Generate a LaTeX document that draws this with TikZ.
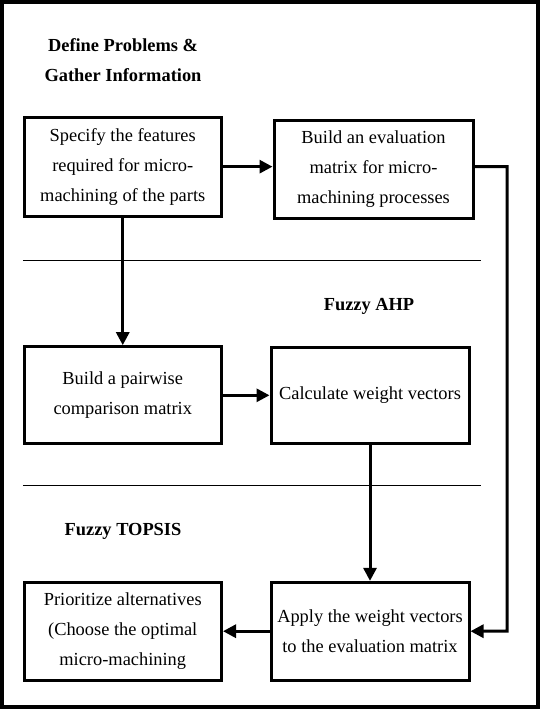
\documentclass[tikz,border=0pt]{standalone}
\usepackage{fontspec}
\setmainfont{Liberation Serif}
\usetikzlibrary{arrows.meta}
\tikzset{
  stepbox/.style={draw, line width=3pt, inner sep=2pt, align=center,
    font=\fontsize{18.4}{30}\selectfont},
  flow/.style={line width=3pt, -{Triangle[length=13pt,width=13pt]}},
  plain/.style={line width=3pt},
  sep/.style={line width=1pt},
  head/.style={align=center, font=\fontsize{18.4}{30}\selectfont\bfseries}
}
\begin{document}
\begin{tikzpicture}[x=1pt,y=-1pt]
\useasboundingbox (0,0) rectangle (541,710);
\draw[line width=4pt] (2,2) rectangle (538,707);

\node[head] (h1) at (123,60) {Define Problems \&\\Gather Information};
\node[head] (h2) at (369,306.7) {Fuzzy AHP};
\node[head] (h3) at (123,531.7) {Fuzzy TOPSIS};

\node[stepbox, minimum width=197.5pt, minimum height=98.7pt] (b1) at (122.75,166.65)
  {Specify the features\\required for micro-\\machining of the parts};
\node[stepbox, minimum width=199pt, minimum height=97.6pt] (b2) at (373.5,169.5)
  {Build an evaluation\\matrix for micro-\\machining processes};
\node[stepbox, minimum width=197.5pt, minimum height=97.3pt] (b3) at (122.75,395.3)
  {Build a pairwise\\comparison matrix};
\node[stepbox, minimum width=198pt, minimum height=96pt] (b4) at (370,395.3)
  {Calculate weight vectors};
\node[stepbox, minimum width=197.5pt, minimum height=97.7pt] (b5) at (122.75,631.2)
  {Prioritize alternatives\\(Choose the optimal\\micro-machining};
\node[stepbox, minimum width=198pt, minimum height=97.7pt] (b6) at (370,631.2)
  {Apply the weight vectors\\to the evaluation matrix};

\coordinate (s1a) at (22.8,260.7);
\coordinate (s1b) at (481,260.7);
\coordinate (s2a) at (22.8,485.3);
\coordinate (s2b) at (481,485.3);
\draw[sep] (s1a) -- (s1b);
\draw[sep] (s2a) -- (s2b);

\coordinate (r) at (507,166.7);
\draw[flow] (b1.east) -- (b1.east -| b2.west);
\draw[flow] (b1.east -| b2.east) -- (r) |- (b6.east);
\draw[flow] (b1.south) -- (b3.north);
\draw[flow] (b3.east) -- (b3.east -| b4.west);
\draw[flow] (b4.south) -- (b6.north);
\draw[flow] (b6.west) -- (b5.east);
\end{tikzpicture}
\end{document}
